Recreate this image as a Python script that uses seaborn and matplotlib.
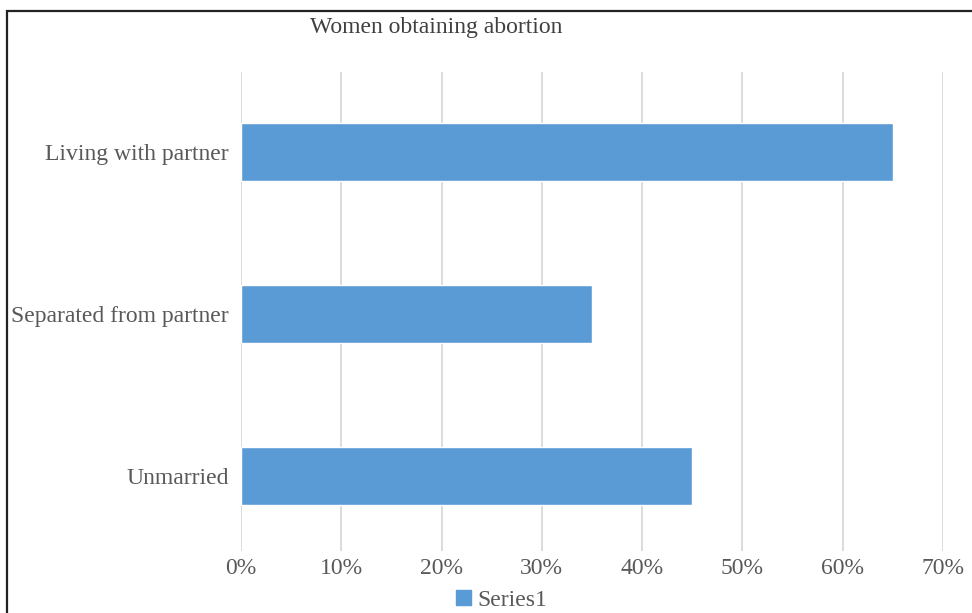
import pandas as pd
import matplotlib
matplotlib.use("Agg")
import matplotlib.pyplot as plt
import matplotlib.patches as mpatches
from matplotlib.ticker import PercentFormatter
import seaborn as sns

# chart data
categories = ['Living with partner', 'Separated from partner', 'Unmarried']
values = [0.65, 0.35, 0.45]
series_name = 'Series1'
title = 'Women obtaining abortion'

bar_color = '#5B9BD5'
text_color = '#595959'

df = pd.DataFrame({'status': categories, 'share': values})

sns.set_style('white')
plt.rcParams['font.family'] = ['Liberation Serif', 'DejaVu Serif']

fig = plt.figure(figsize=(9.72, 6.13), dpi=100)
ax = fig.add_axes([241 / 972, 1 - 551 / 613, (943 - 241) / 972, (551 - 72) / 613])

sns.barplot(data=df, x='share', y='status', orient='h', color=bar_color,
            width=0.36, saturation=1, ax=ax, zorder=3)

ax.set_xlim(0, 0.70)
ax.set_ylim(2.463, -0.494)
ax.set_xticks([i / 10 for i in range(8)])
ax.xaxis.set_major_formatter(PercentFormatter(1.0, decimals=0))
ax.grid(axis='x', color='#D9D9D9', linewidth=1.3, zorder=0)
ax.grid(axis='y', visible=False)
ax.set_axisbelow(True)
for s in ax.spines.values():
    s.set_visible(False)
ax.set_xlabel('')
ax.set_ylabel('')
ax.tick_params(axis='both', length=0, labelsize=17, labelcolor=text_color)
ax.tick_params(axis='y', pad=9)
ax.tick_params(axis='x', pad=5)

fig.text(436 / 972, 1 - 27 / 613, title, ha='center', va='center',
         fontsize=17, color='#404040')

handle = mpatches.Patch(color=bar_color, label=series_name)
fig.legend(handles=[handle], loc='center', bbox_to_anchor=(502 / 972, 1 - 600 / 613),
           frameon=False, fontsize=17, labelcolor=text_color,
           handlelength=0.6, handleheight=0.6, handletextpad=0.3, borderpad=0)

# outer frame around the chart
frame = mpatches.Rectangle((7 / 972, -0.1), 1.2, 0.1 + (1 - 11 / 613),
                           transform=fig.transFigure, fill=False,
                           edgecolor='#222222', linewidth=1.6, clip_on=False)
fig.patches.append(frame)

fig.savefig('out.png', dpi=100)
